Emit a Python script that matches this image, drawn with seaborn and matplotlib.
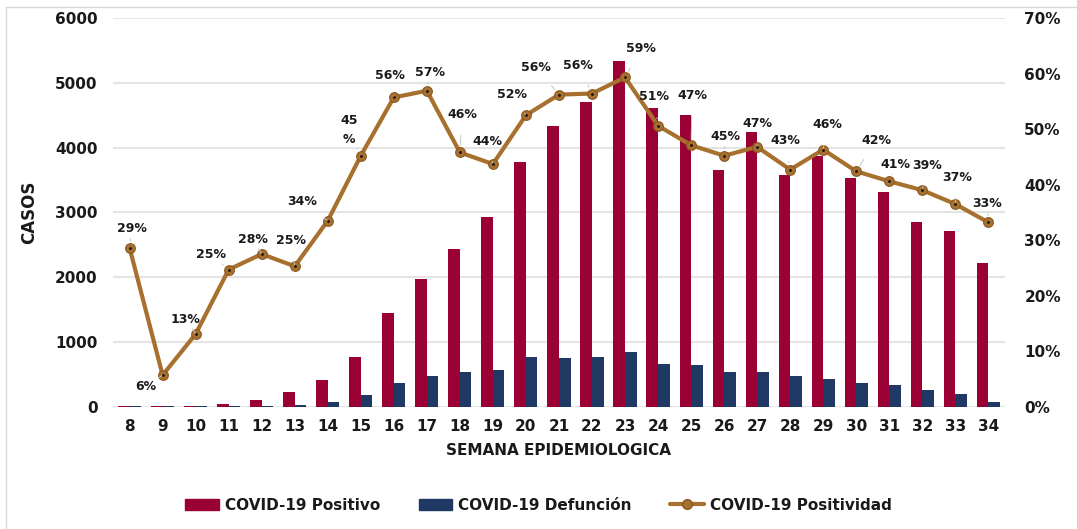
import numpy as np
import pandas as pd
import matplotlib.pyplot as plt
import seaborn as sns
from matplotlib.patches import Patch, Rectangle
from matplotlib.lines import Line2D
from matplotlib.ticker import PercentFormatter

semanas = [str(s) for s in range(8, 35)]
positivo = [20, 10, 10, 40, 100, 230, 420, 765, 1450, 1965, 2440, 2930, 3780,
            4340, 4710, 5340, 4610, 4500, 3650, 4240, 3570, 3870, 3530, 3320,
            2850, 2720, 2220]
defuncion = [5, 10, 10, 10, 15, 35, 80, 175, 370, 475, 535, 565, 765,
             750, 765, 845, 665, 645, 530, 530, 475, 430, 370, 335,
             255, 195, 70]
positividad = [28.6, 5.7, 13.1, 24.7, 27.5, 25.3, 33.5, 45.2, 55.7, 56.9, 45.8,
               43.7, 52.5, 56.2, 56.4, 59.3, 50.6, 47.1, 45.2, 46.8, 42.7, 46.3,
               42.4, 40.6, 39.0, 36.5, 33.2]
etiquetas = ["29%", "6%", "13%", "25%", "28%", "25%", "34%", "45\n%", "56%", "57%",
             "46%", "44%", "52%", "56%", "56%", "59%", "51%", "47%", "45%", "47%",
             "43%", "46%", "42%", "41%", "39%", "37%", "33%"]

# label offsets in pixels (dx, dy in image direction)
offs = [(2, -19), (-17, 11), (-10, -15), (-18, -15), (-9, -15), (-4, -26), (-26, -19),
        (-12, -26), (-4, -22), (3, -18), (2, -38), (-5, -23), (-14, -21), (-23, -27),
        (-14, -28), (16, -29), (-4, -29), (1, -50), (1, -19), (0, -23), (-5, -29),
        (4, -25), (20, -31), (6, -17), (5, -25), (2, -27), (-1, -19)]

ROJO = "#9B0034"
AZUL = "#1F3864"
CAFE = "#A8702F"
TEXTO = "#1A1A1A"

df = pd.DataFrame({
    "semana": semanas * 2,
    "casos": positivo + defuncion,
    "serie": ["COVID-19 Positivo"] * len(semanas) + ["COVID-19 Defunción"] * len(semanas),
})

sns.set_style("white")
plt.rcParams["font.family"] = ["DejaVu Sans"]
plt.rcParams["font.weight"] = "bold"
plt.rcParams["text.color"] = TEXTO
plt.rcParams["xtick.color"] = TEXTO
plt.rcParams["ytick.color"] = TEXTO
plt.rcParams["axes.labelcolor"] = TEXTO

fig = plt.figure(figsize=(10.77, 5.29), dpi=100)
ax = fig.add_axes([0.105, 0.231, 0.828, 0.735])

sns.barplot(data=df, x="semana", y="casos", hue="serie", order=semanas,
            palette=[ROJO, AZUL], width=0.7, saturation=1, linewidth=0, ax=ax)
ax.get_legend().remove()
ax.set_ylim(0, 6000)
ax.set_xlim(-0.5, len(semanas) - 0.5)
ax.set_yticks(range(0, 6001, 1000))
ax.yaxis.grid(True, color="#E4E4E4", linewidth=1.5)
ax.set_axisbelow(True)
ax.tick_params(axis="both", length=0, labelsize=11)
ax.tick_params(axis="y", pad=11)
ax.tick_params(axis="x", pad=9)
for t in ax.get_xticklabels() + ax.get_yticklabels():
    t.set_fontweight("bold")
ax.set_ylabel("CASOS", fontsize=12, fontweight="bold", labelpad=12)
ax.set_xlabel("SEMANA EPIDEMIOLOGICA", fontsize=11, fontweight="bold", labelpad=6)
sns.despine(ax=ax, left=True, bottom=True)

ax2 = ax.twinx()
x = np.arange(len(semanas))
y = np.array(positividad) / 100
sns.lineplot(x=x, y=y, ax=ax2, color=CAFE, linewidth=3, marker="o",
             markersize=7, markeredgecolor="#8C5A22", markeredgewidth=0.8,
             markerfacecolor=CAFE)
sns.scatterplot(x=x, y=y, ax=ax2, color="#111111", s=4, linewidth=0, zorder=5)
ax2.set_ylim(0, 0.7)
ax2.set_yticks(np.arange(0, 0.71, 0.1))
ax2.yaxis.set_major_formatter(PercentFormatter(1.0, decimals=0))
ax2.tick_params(axis="y", length=0, labelsize=11, pad=14)
for t in ax2.get_yticklabels():
    t.set_fontweight("bold")
ax2.set_ylabel("")
sns.despine(ax=ax2, left=True, bottom=True, right=True)

for xi, yi, lab, (dx, dy) in zip(x, y, etiquetas, offs):
    ax2.annotate(lab, (xi, yi), xytext=(dx, -dy), textcoords="offset pixels",
                 ha="center", va="center", fontsize=9, fontweight="bold",
                 color=TEXTO, linespacing=1.6,
                 arrowprops=dict(arrowstyle="-", color="#C4C4C4", lw=0.7,
                                 shrinkA=8, shrinkB=5))

handles = [Patch(color=ROJO), Patch(color=AZUL),
           Line2D([0], [0], color=CAFE, lw=3, marker="o", markersize=7,
                  markerfacecolor=CAFE, markeredgecolor="#8C5A22")]
fig.legend(handles, ["COVID-19 Positivo", "COVID-19 Defunción", "COVID-19 Positividad"],
           loc="center", bbox_to_anchor=(0.5, 0.045), ncol=3, frameon=False,
           prop={"size": 11, "weight": "bold"}, handlelength=2.2, columnspacing=2.5,
           handletextpad=0.4)

fig.patches.append(Rectangle((0.006, -0.1), 1.2, 1.087, transform=fig.transFigure,
                             fill=False, edgecolor="#D8D8D8", lw=1))

fig.savefig("out.png", dpi=100)
